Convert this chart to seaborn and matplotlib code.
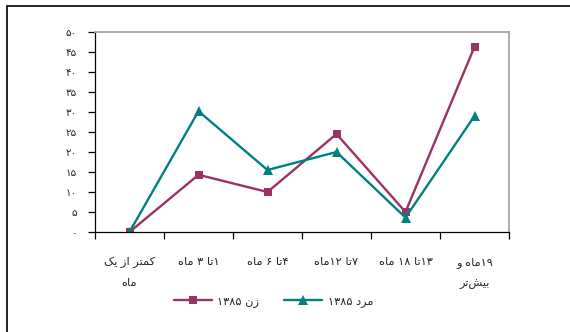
import re
import matplotlib
matplotlib.use("Agg")
import matplotlib.pyplot as plt
from matplotlib.patches import Rectangle
import pandas as pd
import seaborn as sns
import numpy as np

categories = ["کمتر از یک\nماه", "۱تا ۳ ماه", "۴تا ۶ ماه", "۷تا ۱۲ماه", "۱۳تا ۱۸ ماه", "۱۹ماه و\nبیش\u200cتر"]
women = [0, 14.3, 10, 24.5, 5, 46.3]
men = [0, 30.2, 15.5, 20, 3.6, 29]
series_names = ["زن ۱۳۸۵", "مرد ۱۳۸۵"]
y_ticks = list(range(0, 51, 5))

# contextual forms (isolated, final, initial, medial) for the letters used here
FORMS = {
    'ا': ('\uFE8D', '\uFE8E', None, None),
    'ب': ('\uFE8F', '\uFE90', '\uFE91', '\uFE92'),
    'ت': ('\uFE95', '\uFE96', '\uFE97', '\uFE98'),
    'د': ('\uFEA9', '\uFEAA', None, None),
    'ر': ('\uFEAD', '\uFEAE', None, None),
    'ز': ('\uFEAF', '\uFEB0', None, None),
    'ش': ('\uFEB5', '\uFEB6', '\uFEB7', '\uFEB8'),
    'م': ('\uFEE1', '\uFEE2', '\uFEE3', '\uFEE4'),
    'ن': ('\uFEE5', '\uFEE6', '\uFEE7', '\uFEE8'),
    'ه': ('\uFEE9', '\uFEEA', '\uFEEB', '\uFEEC'),
    'و': ('\uFEED', '\uFEEE', None, None),
    'ک': ('\uFB8E', '\uFB8F', '\uFB90', '\uFB91'),
    'ی': ('\uFBFC', '\uFBFD', '\uFBFE', '\uFBFF'),
}
FA_DIGITS = "۰۱۲۳۴۵۶۷۸۹"


def shape_line(s):
    out = []
    for i, ch in enumerate(s):
        if ch not in FORMS:
            out.append(ch)
            continue
        prev = s[i - 1] if i > 0 else ''
        nxt = s[i + 1] if i + 1 < len(s) else ''
        jp = prev in FORMS and FORMS[prev][2] is not None
        jn = FORMS[ch][2] is not None and nxt in FORMS
        iso, fin, ini, med = FORMS[ch]
        if jp and jn:
            out.append(med)
        elif jp:
            out.append(fin)
        elif jn:
            out.append(ini)
        else:
            out.append(iso)
    s2 = ''.join(c for c in out if c != '\u200c')
    runs = re.findall(r'[۰-۹]+|[^۰-۹]+', s2)
    return ''.join(r if r[0] in FA_DIGITS else r[::-1] for r in runs[::-1])


def rtl(s):
    return "\n".join(shape_line(l) for l in s.split("\n"))


def fa_num(n):
    return ''.join(FA_DIGITS[int(d)] for d in str(n))


x = np.arange(len(categories))
df = pd.DataFrame({
    "x": np.concatenate([x, x]),
    "value": women + men,
    "series": [rtl(series_names[0])] * len(x) + [rtl(series_names[1])] * len(x),
})

sns.set_theme(style="white")
plt.rcParams['font.family'] = ['DejaVu Sans']

fig = plt.figure(figsize=(5.7, 3.32), dpi=100)
ax = fig.add_axes([95 / 570, 1 - 232 / 332, (509 - 95) / 570, 200 / 332])

palette = {rtl(series_names[0]): "#993366", rtl(series_names[1]): "#008080"}
markers = {rtl(series_names[0]): "s", rtl(series_names[1]): "^"}
sns.lineplot(data=df, x="x", y="value", hue="series", style="series",
             palette=palette, markers=markers, dashes=False, linewidth=1.7,
             markersize=6.5, markeredgewidth=0, ax=ax)
for line in ax.lines:
    if line.get_marker() == "s":
        line.set_markersize(5.5)

ax.set_xlim(-0.5, len(categories) - 0.5)
ax.set_ylim(0, 50)
ax.set_yticks(y_ticks)
ax.set_yticklabels([fa_num(v) for v in y_ticks], fontsize=7.5)
ax.set_xticks(x)
ax.set_xticklabels([rtl(c) for c in categories], fontsize=8.2, linespacing=2.2, va="top")
ax.set_xticks(np.arange(-0.5, len(categories), 1), minor=True)
ax.tick_params(axis="x", which="major", bottom=True, length=0, pad=18)
ax.tick_params(axis="x", which="minor", bottom=True, length=5, width=0.9,
               color="black", direction="out")
ax.tick_params(axis="y", left=True, length=5, width=0.9, color="black",
               direction="out", pad=8)
ax.set_xlabel("")
ax.set_ylabel("")

for side in ["left", "bottom"]:
    ax.spines[side].set_color("black")
    ax.spines[side].set_linewidth(0.9)
for side in ["top", "right"]:
    ax.spines[side].set_color("#a6a6a6")
    ax.spines[side].set_linewidth(1.3)

handles, labels = ax.get_legend_handles_labels()
ax.legend(handles, labels, loc="center", bbox_to_anchor=(0.48, 0.093),
          bbox_transform=fig.transFigure, ncol=2, frameon=False, fontsize=8.2,
          handlelength=3.3, columnspacing=2.2, handletextpad=0.5)

fig.add_artist(Rectangle((7 / 570, -0.2), 1.2, 1.2 - 6 / 332, transform=fig.transFigure,
                         fill=False, edgecolor="black", linewidth=1.2))

fig.savefig("out.png", dpi=100)
